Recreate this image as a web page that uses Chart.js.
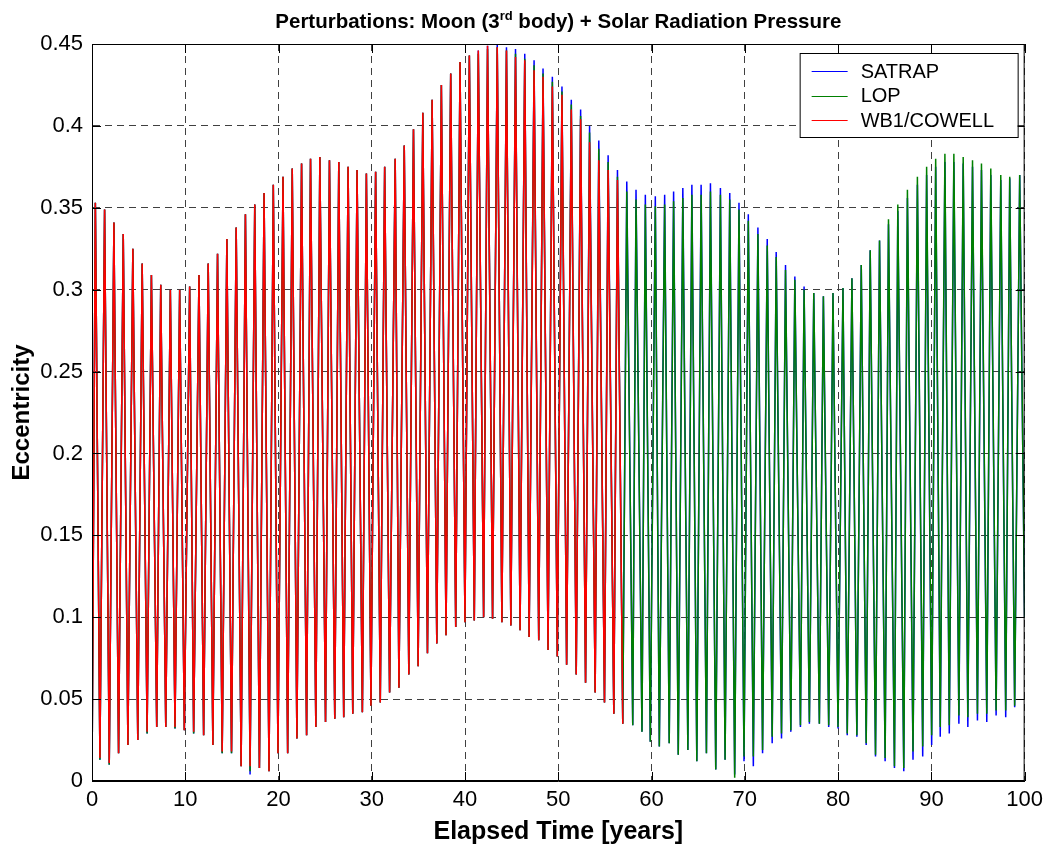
<!DOCTYPE html>
<html>
<head>
<meta charset="utf-8">
<title>Perturbations: Moon + SRP</title>
<script src="https://cdn.jsdelivr.net/npm/chart.js@4.4.1/dist/chart.umd.min.js"></script>
<style>
  html, body { margin: 0; padding: 0; background: #fff; }
  #wrap { width: 1049px; height: 851px; }
</style>
</head>
<body>
<div id="wrap"><canvas id="eccChart" width="1049" height="851"></canvas></div>
<script>
// Title (the "rd" is drawn as a superscript)
const titleParts = ['Perturbations: Moon (3', 'rd', ' body) + Solar Radiation Pressure'];
const seriesNames = ['SATRAP', 'LOP', 'WB1/COWELL'];
const seriesColors = ['#0000ff', '#008000', '#ff0000'];

const xTickLabels = ['0', '10', '20', '30', '40', '50', '60', '70', '80', '90', '100'];
const yTickLabels = ['0', '0.05', '0.1', '0.15', '0.2', '0.25', '0.3', '0.35', '0.4', '0.45'];

// Elapsed time [years] of each local maximum / minimum
const peakYears = [
    0.36, 1.35, 2.35, 3.35, 4.38, 5.38, 6.37, 7.37, 8.40, 9.40,
    10.47, 11.47, 12.46, 13.46, 14.46, 15.46, 16.45, 17.45, 18.45, 19.44,
    20.48, 21.47, 22.47, 23.43, 24.43, 25.46, 26.46, 27.46, 28.42, 29.42,
    30.41, 31.38, 32.51, 33.48, 34.47, 35.47, 36.47, 37.46, 38.46, 39.46,
    40.46, 41.42, 42.41, 43.45, 44.44, 45.41, 46.40, 47.40, 48.36, 49.36,
    50.39, 51.39, 52.39, 53.35, 54.34, 55.34, 56.34, 57.34, 58.33, 59.33,
    60.40, 61.40, 62.36, 63.35, 64.32, 65.31, 66.31, 67.38, 68.38, 69.37,
    70.37, 71.40, 72.40, 73.36, 74.36, 75.36, 76.35, 77.39, 78.42, 79.45,
    80.52, 81.48, 82.48, 83.44, 84.44, 85.40, 86.40, 87.43, 88.50, 89.49,
    90.46, 91.45, 92.41, 93.41, 94.41, 95.37, 96.37, 97.44, 98.40, 99.47
];
const troughYears = [
    0.85, 1.85, 2.85, 3.85, 4.91, 5.91, 6.94, 7.91, 8.90, 9.90,
    10.90, 11.97, 12.96, 13.96, 14.96, 15.99, 16.95, 17.95, 18.98, 19.94,
    20.98, 21.97, 23.01, 24.00, 25.04, 26.03, 26.99, 27.96, 28.99, 29.91,
    30.91, 31.91, 32.91, 33.97, 34.97, 35.97, 36.97, 37.96, 39.00, 39.99,
    40.99, 41.99, 42.95, 43.95, 44.91, 45.90, 46.87, 47.90, 48.90, 49.89,
    50.89, 51.92, 52.92, 53.95, 54.95, 55.95, 56.91, 57.98, 58.97, 59.86,
    60.83, 61.89, 62.86, 63.89, 64.85, 65.88, 66.88, 67.88, 68.91, 69.91,
    70.91, 71.90, 72.93, 73.93, 74.93, 75.96, 76.92, 77.99, 78.99, 79.99,
    80.98, 82.01, 83.01, 84.01, 85.04, 86.04, 87.04, 88.03, 89.07, 90.03,
    90.95, 91.92, 92.95, 93.91, 94.94, 95.94, 96.94, 97.97, 98.93
];

// Eccentricity at start / end of the run
const startEcc = [0.0, 0.0, 0.0];
const endEcc = [0.10, 0.10, null];

// SATRAP
const satrapPeaks = [
    0.353, 0.349, 0.341, 0.334, 0.325, 0.316, 0.309, 0.303, 0.300, 0.300,
    0.302, 0.309, 0.316, 0.322, 0.331, 0.338, 0.346, 0.352, 0.359, 0.364,
    0.369, 0.374, 0.377, 0.380, 0.381, 0.379, 0.378, 0.375, 0.373, 0.371,
    0.372, 0.375, 0.380, 0.388, 0.398, 0.408, 0.416, 0.425, 0.432, 0.439,
    0.443, 0.446, 0.449, 0.450, 0.448, 0.447, 0.444, 0.440, 0.435, 0.430,
    0.424, 0.416, 0.410, 0.400, 0.391, 0.382, 0.373, 0.366, 0.361, 0.358,
    0.357, 0.358, 0.360, 0.362, 0.364, 0.364, 0.365, 0.362, 0.359, 0.353,
    0.346, 0.338, 0.331, 0.323, 0.315, 0.308, 0.302, 0.298, 0.296, 0.298,
    0.301, 0.307, 0.315, 0.324, 0.330, 0.340, 0.348, 0.356, 0.364, 0.370,
    0.375, 0.378, 0.378, 0.377, 0.375, 0.373, 0.370, 0.367, 0.368, 0.370
];
const satrapTroughs = [
    0.013, 0.010, 0.017, 0.022, 0.025, 0.029, 0.033, 0.033, 0.032, 0.031,
    0.029, 0.028, 0.022, 0.017, 0.017, 0.009, 0.004, 0.008, 0.006, 0.017,
    0.017, 0.026, 0.028, 0.033, 0.036, 0.038, 0.039, 0.041, 0.042, 0.046,
    0.048, 0.054, 0.057, 0.065, 0.070, 0.078, 0.084, 0.089, 0.094, 0.097,
    0.098, 0.100, 0.099, 0.097, 0.095, 0.092, 0.088, 0.086, 0.080, 0.076,
    0.071, 0.065, 0.060, 0.054, 0.048, 0.041, 0.035, 0.034, 0.030, 0.024,
    0.021, 0.023, 0.016, 0.019, 0.012, 0.017, 0.007, 0.013, 0.004, 0.012,
    0.009, 0.017, 0.023, 0.026, 0.030, 0.033, 0.035, 0.035, 0.033, 0.032,
    0.028, 0.027, 0.022, 0.015, 0.012, 0.008, 0.006, 0.013, 0.015, 0.022,
    0.027, 0.029, 0.035, 0.033, 0.037, 0.036, 0.040, 0.039, 0.045
];

// LOP
const lopPeaks = [
    0.353, 0.349, 0.341, 0.334, 0.325, 0.316, 0.309, 0.303, 0.300, 0.300,
    0.302, 0.309, 0.316, 0.322, 0.331, 0.338, 0.346, 0.352, 0.359, 0.364,
    0.369, 0.374, 0.377, 0.380, 0.381, 0.379, 0.378, 0.375, 0.373, 0.371,
    0.372, 0.375, 0.380, 0.388, 0.398, 0.408, 0.416, 0.425, 0.432, 0.439,
    0.443, 0.444, 0.447, 0.448, 0.446, 0.444, 0.441, 0.437, 0.432, 0.427,
    0.421, 0.413, 0.406, 0.396, 0.386, 0.378, 0.369, 0.360, 0.355, 0.352,
    0.351, 0.352, 0.354, 0.356, 0.358, 0.358, 0.360, 0.358, 0.355, 0.349,
    0.342, 0.334, 0.327, 0.320, 0.312, 0.306, 0.300, 0.298, 0.296, 0.298,
    0.301, 0.307, 0.315, 0.324, 0.330, 0.343, 0.352, 0.361, 0.369, 0.375,
    0.380, 0.383, 0.383, 0.381, 0.379, 0.377, 0.374, 0.370, 0.369, 0.370
];
const lopTroughs = [
    0.013, 0.010, 0.017, 0.022, 0.025, 0.029, 0.033, 0.033, 0.032, 0.031,
    0.029, 0.028, 0.022, 0.017, 0.017, 0.009, 0.006, 0.008, 0.006, 0.017,
    0.017, 0.026, 0.028, 0.033, 0.036, 0.038, 0.039, 0.041, 0.042, 0.046,
    0.048, 0.054, 0.057, 0.065, 0.070, 0.078, 0.084, 0.089, 0.094, 0.097,
    0.098, 0.100, 0.099, 0.097, 0.095, 0.092, 0.088, 0.086, 0.080, 0.076,
    0.071, 0.065, 0.060, 0.054, 0.048, 0.041, 0.035, 0.034, 0.030, 0.024,
    0.021, 0.023, 0.016, 0.019, 0.012, 0.017, 0.007, 0.013, 0.002, 0.015,
    0.015, 0.019, 0.027, 0.029, 0.031, 0.034, 0.036, 0.035, 0.034, 0.033,
    0.029, 0.028, 0.023, 0.016, 0.014, 0.009, 0.008, 0.018, 0.021, 0.028,
    0.033, 0.034, 0.040, 0.039, 0.041, 0.041, 0.043, 0.043, 0.046
];

// WB1/COWELL (run stops near 57 years)
const cowellPeaks = [
    0.353, 0.349, 0.341, 0.334, 0.325, 0.316, 0.309, 0.303, 0.300, 0.300,
    0.302, 0.309, 0.316, 0.322, 0.331, 0.338, 0.346, 0.352, 0.359, 0.364,
    0.369, 0.374, 0.377, 0.380, 0.381, 0.379, 0.378, 0.375, 0.373, 0.371,
    0.372, 0.375, 0.380, 0.388, 0.398, 0.408, 0.416, 0.425, 0.432, 0.439,
    0.443, 0.446, 0.449, 0.448, 0.446, 0.442, 0.440, 0.434, 0.430, 0.424,
    0.419, 0.410, 0.404, 0.390, 0.379, 0.373, 0.367
];
const cowellTroughs = [
    0.014, 0.011, 0.017, 0.022, 0.025, 0.030, 0.033, 0.033, 0.033, 0.031,
    0.030, 0.028, 0.022, 0.018, 0.018, 0.009, 0.009, 0.008, 0.006, 0.017,
    0.017, 0.026, 0.028, 0.033, 0.036, 0.038, 0.039, 0.041, 0.042, 0.046,
    0.048, 0.054, 0.057, 0.065, 0.070, 0.078, 0.084, 0.089, 0.094, 0.097,
    0.098, 0.100, 0.099, 0.097, 0.095, 0.092, 0.088, 0.086, 0.080, 0.076,
    0.071, 0.065, 0.060, 0.054, 0.048, 0.041, 0.035
];

const FONT = "'Liberation Sans', Arial, Helvetica, sans-serif";

// start point, then alternate max / min, then the end point
function buildSeries(start, peaks, troughs, end) {
    const pts = [{ x: 0, y: start }];
    peaks.forEach((p, i) => {
        pts.push({ x: peakYears[i], y: p });
        if (i < troughs.length) pts.push({ x: troughYears[i], y: troughs[i] });
    });
    if (end !== null) pts.push({ x: 100, y: end });
    return pts;
}

const seriesData = [
    buildSeries(startEcc[0], satrapPeaks, satrapTroughs, endEcc[0]),
    buildSeries(startEcc[1], lopPeaks, lopTroughs, endEcc[1]),
    buildSeries(startEcc[2], cowellPeaks, cowellTroughs, endEcc[2])
];

/**
 * Title with superscript, boxed legend and the MATLAB-style frame
 */
const titlePlugin = {
    id: 'supTitle',
    afterDraw(chart) {
        const ctx = chart.ctx;
        const area = chart.chartArea;
        const parts = [
            { text: titleParts[0], size: 20.5, dy: 0 },
            { text: titleParts[1], size: 13, dy: -8 },
            { text: titleParts[2], size: 20.5, dy: 0 }
        ];
        ctx.save();
        ctx.fillStyle = '#000';
        ctx.textBaseline = 'alphabetic';
        let total = 0;
        parts.forEach(p => {
            ctx.font = `bold ${p.size}px ${FONT}`;
            p.w = ctx.measureText(p.text).width;
            total += p.w;
        });
        let x = (area.left + area.right) / 2 - total / 2;
        parts.forEach(p => {
            ctx.font = `bold ${p.size}px ${FONT}`;
            ctx.fillText(p.text, x, 28 + p.dy);
            x += p.w;
        });
        ctx.restore();
    }
};

const framePlugin = {
    id: 'frame',
    afterDatasetsDraw(chart) {
        const ctx = chart.ctx;
        const { left, right, top, bottom } = chart.chartArea;
        const xs = chart.scales.x, ys = chart.scales.y;
        ctx.save();
        ctx.strokeStyle = '#000';
        ctx.lineWidth = 1;
        ctx.strokeRect(left + 0.5, top + 0.5, right - left - 1, bottom - top - 1);
        ctx.beginPath();
        xs.ticks.forEach(t => {
            const px = Math.round(xs.getPixelForValue(t.value)) + 0.5;
            ctx.moveTo(px, bottom); ctx.lineTo(px, bottom - 9);
            ctx.moveTo(px, top); ctx.lineTo(px, top + 9);
        });
        ys.ticks.forEach(t => {
            const py = Math.round(ys.getPixelForValue(t.value)) + 0.5;
            ctx.moveTo(left, py); ctx.lineTo(left + 9, py);
            ctx.moveTo(right, py); ctx.lineTo(right - 9, py);
        });
        ctx.stroke();
        ctx.restore();
    }
};

const legendPlugin = {
    id: 'boxLegend',
    afterDraw(chart) {
        const ctx = chart.ctx;
        const area = chart.chartArea;
        const bx = area.right - 225, by = area.top + 9, bw = 218, bh = 84;
        ctx.save();
        ctx.fillStyle = '#fff';
        ctx.fillRect(bx, by, bw, bh);
        ctx.strokeStyle = '#000';
        ctx.lineWidth = 1;
        ctx.strokeRect(bx + 0.5, by + 0.5, bw, bh);
        ctx.font = `20px ${FONT}`;
        ctx.textBaseline = 'middle';
        chart.data.datasets.forEach((ds, i) => {
            const ry = by + 18 + i * 24.5;
            ctx.strokeStyle = ds.borderColor;
            ctx.beginPath();
            ctx.moveTo(bx + 12, Math.round(ry) + 0.5);
            ctx.lineTo(bx + 48, Math.round(ry) + 0.5);
            ctx.stroke();
            ctx.fillStyle = '#000';
            ctx.fillText(ds.label, bx + 61, ry + 1);
        });
        ctx.restore();
    }
};

new Chart(document.getElementById('eccChart'), {
    type: 'line',
    data: {
        datasets: seriesData.map((pts, i) => ({
            label: seriesNames[i],
            data: pts,
            borderColor: seriesColors[i],
            backgroundColor: seriesColors[i],
            borderWidth: 1.5,
            pointRadius: 0,
            tension: 0,
            fill: false,
            order: 3 - i
        }))
    },
    options: {
        responsive: false,
        animation: false,
        parsing: false,
        layout: { padding: { left: 0, right: 21, top: 44, bottom: 0 } },
        plugins: {
            legend: { display: false },
            title: { display: false },
            tooltip: { enabled: false }
        },
        scales: {
            x: {
                type: 'linear',
                min: 0,
                max: 100,
                afterFit: s => { s.height = 70; },
                ticks: {
                    stepSize: 10,
                    autoSkip: false,
                    maxRotation: 0,
                    padding: 6,
                    color: '#000',
                    font: { family: FONT, size: 22 },
                    callback: (v, i) => xTickLabels[i]
                },
                grid: { color: '#404040', lineWidth: 1, drawTicks: false },
                border: { display: true, color: '#000', width: 1, dash: [7, 5] },
                title: {
                    display: true,
                    text: 'Elapsed Time [years]',
                    color: '#000',
                    font: { family: FONT, size: 25, weight: 'bold' },
                    padding: { top: 0, bottom: 4 }
                }
            },
            y: {
                min: 0,
                max: 0.45,
                afterFit: s => { s.width = 92; },
                ticks: {
                    stepSize: 0.05,
                    autoSkip: false,
                    padding: 9,
                    color: '#000',
                    font: { family: FONT, size: 22 },
                    callback: (v, i) => yTickLabels[i]
                },
                grid: { color: '#404040', lineWidth: 1, drawTicks: false },
                border: { display: true, color: '#000', width: 1, dash: [7, 5] },
                title: {
                    display: true,
                    text: 'Eccentricity',
                    color: '#000',
                    font: { family: FONT, size: 24, weight: 'bold' },
                    padding: { top: 8, bottom: 0 }
                }
            }
        }
    },
    plugins: [framePlugin, titlePlugin, legendPlugin]
});
</script>
</body>
</html>
